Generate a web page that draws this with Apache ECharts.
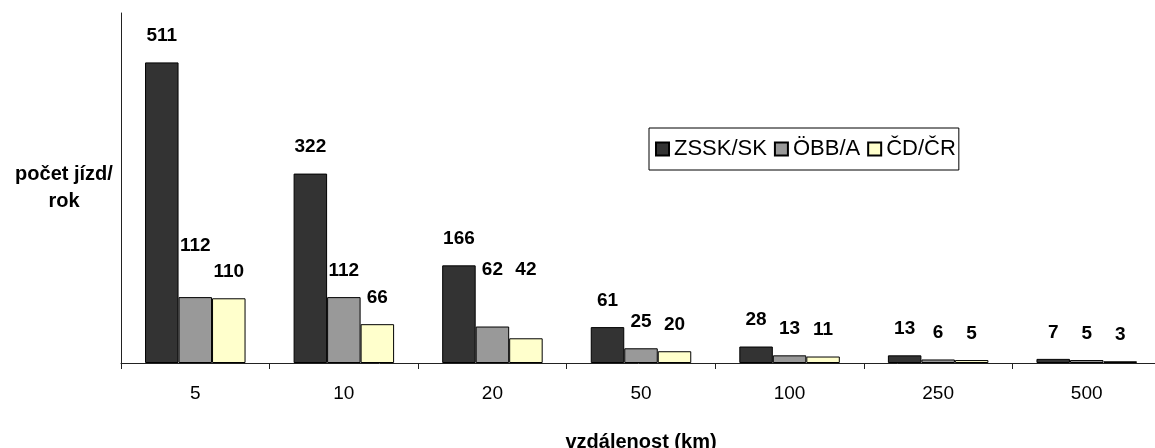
<!DOCTYPE html>
<html>
<head>
<meta charset="utf-8">
<script src="https://cdn.jsdelivr.net/npm/echarts@6/dist/echarts.min.js"></script>
<style>
  html, body { margin: 0; padding: 0; background: #fff; }
  #chart { width: 1155px; height: 448px; }
</style>
</head>
<body>
<div id="chart"></div>
<script>
// Distance categories (km)
const categories = ['5', '10', '20', '50', '100', '250', '500'];

// Trips per year by operator
const zssk = [511, 322, 166, 61, 28, 13, 7];
const obb  = [112, 112, 62, 25, 13, 6, 5];
const cd   = [110, 66, 42, 20, 11, 5, 3];

const seriesNames = ['ZSSK/SK', 'ÖBB/A', 'ČD/ČR'];

// Extra upward shift (px) for a few value labels
const zsskLift = [0, 0, 0, 0, 0, 0, 0];
const obbLift  = [25, 0, 30, 0, 0, 0, 0];
const cdLift   = [0, 0, 42, 0, 0, 0, 0];

const FONT = 'Liberation Sans, Arial, sans-serif';

function withLabels(values, lift) {
  return values.map((v, i) => ({
    value: v,
    label: { offset: [0, -lift[i]] }
  }));
}

function barSeries(name, values, lift, color) {
  return {
    name: name,
    type: 'bar',
    data: withLabels(values, lift),
    barWidth: 33.5,
    barGap: '0%',
    itemStyle: { color: color, borderColor: '#000', borderWidth: 1 },
    label: {
      show: true,
      position: 'top',
      distance: 17,
      fontFamily: FONT,
      fontSize: 19,
      fontWeight: 'bold',
      color: '#000'
    },
    animation: false
  };
}

const chart = echarts.init(document.getElementById('chart'), null, { renderer: 'canvas' });

chart.setOption({
  backgroundColor: '#fff',
  animation: false,
  textStyle: { fontFamily: FONT },
  grid: {
    left: 121,
    top: 13,
    width: 1040,
    height: 350,
    containLabel: false,
    outerBoundsMode: 'none'
  },
  legend: {
    data: seriesNames,
    left: 649,
    top: 128,
    icon: 'rect',
    itemWidth: 13,
    itemHeight: 13,
    itemGap: 7,
    padding: [10, 3, 10, 6],
    borderColor: '#000',
    borderWidth: 1,
    textStyle: { fontFamily: FONT, fontSize: 22, lineHeight: 22, color: '#000', padding: [0, 0, 0, 0] }
  },
  xAxis: {
    type: 'category',
    data: categories,
    name: 'vzdálenost (km)',
    nameLocation: 'middle',
    nameGap: 79,
    nameTextStyle: { fontFamily: FONT, fontSize: 20, fontWeight: 'bold', color: '#000', verticalAlign: 'middle' },
    axisLine: { lineStyle: { color: '#222', width: 1 } },
    axisTick: { show: true, length: 6, alignWithLabel: false, lineStyle: { color: '#222' } },
    axisLabel: { fontFamily: FONT, fontSize: 19, color: '#000', margin: 21 },
    splitLine: { show: false }
  },
  yAxis: {
    type: 'value',
    min: 0,
    max: 595,
    name: 'počet jízd/\nrok',
    nameLocation: 'middle',
    nameRotate: 0,
    nameGap: 57,
    nameTextStyle: { fontFamily: FONT, fontSize: 20, fontWeight: 'bold', color: '#000', align: 'center', verticalAlign: 'middle', lineHeight: 27 },
    axisLine: { show: true, lineStyle: { color: '#222', width: 1 } },
    axisTick: { show: false },
    axisLabel: { show: false },
    splitLine: { show: false }
  },
  series: [
    barSeries(seriesNames[0], zssk, zsskLift, '#333333'),
    barSeries(seriesNames[1], obb, obbLift, '#999999'),
    barSeries(seriesNames[2], cd, cdLift, '#FFFFCC')
  ]
});
</script>
</body>
</html>
